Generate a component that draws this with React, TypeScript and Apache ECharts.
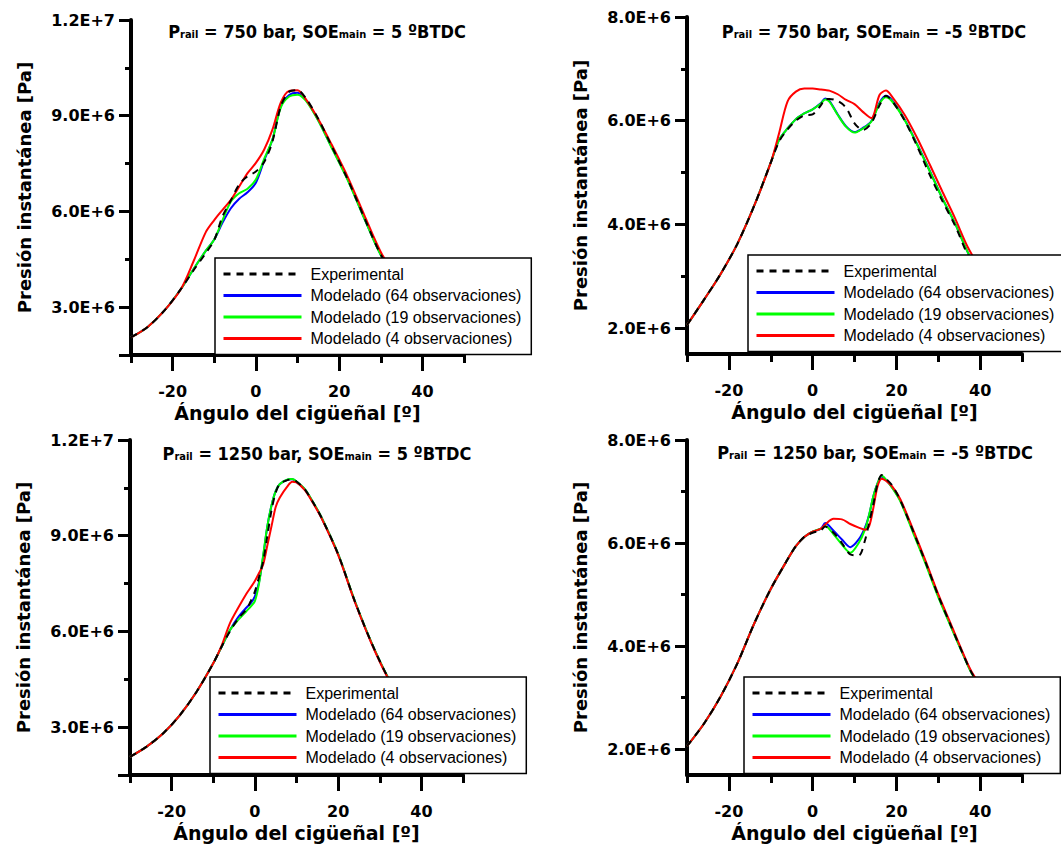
import React, { useEffect, useRef } from "react";
import * as echarts from "echarts";

// ---------- DATA (pressure values in units of 1e6 Pa) ----------
const seriesNames = [
  "Experimental",
  "Modelado (64 observaciones)",
  "Modelado (19 observaciones)",
  "Modelado (4 observaciones)",
];

// Panel 1: Prail = 750 bar, SOEmain = 5 ºBTDC
const angles1 = [-30, -26, -22, -18, -15, -12, -10, -8, -6, -4, -2, 0, 2, 4, 6, 8, 10, 12, 15, 18, 22, 26, 30, 34, 38, 42, 46, 50];
const exp1 = [2.05, 2.38, 2.89, 3.57, 4.15, 4.7, 5.1, 5.85, 6.35, 6.85, 7.1, 7.25, 7.55, 8.2, 9.3, 9.75, 9.8, 9.55, 8.9, 8.1, 7.02, 5.82, 4.65, 3.85, 3.25, 2.8, 2.45, 2.2];
const m64_1 = [2.05, 2.38, 2.89, 3.57, 4.19, 4.77, 5.12, 5.65, 6.1, 6.4, 6.6, 6.9, 7.6, 8.26, 9.3, 9.65, 9.72, 9.5, 8.86, 8.07, 7.02, 5.8, 4.64, 3.85, 3.25, 2.8, 2.45, 2.2];
const m19_1 = [2.05, 2.38, 2.89, 3.57, 4.19, 4.77, 5.12, 5.73, 6.31, 6.57, 6.71, 7.0, 7.65, 8.26, 9.26, 9.6, 9.66, 9.47, 8.84, 8.05, 7.0, 5.79, 4.63, 3.84, 3.24, 2.8, 2.45, 2.2];
const m4_1 = [2.05, 2.38, 2.89, 3.57, 4.43, 5.36, 5.73, 6.05, 6.36, 6.78, 7.2, 7.52, 7.94, 8.57, 9.42, 9.78, 9.8, 9.52, 8.89, 8.15, 7.1, 5.9, 4.73, 3.9, 3.3, 2.85, 2.5, 2.25];

// Panel 2: Prail = 750 bar, SOEmain = -5 ºBTDC
const angles2 = [-30, -26, -22, -18, -14, -10, -8, -6, -4, -2, 0, 2, 3, 4, 6, 8, 10, 12, 14, 16, 17.5, 19, 22, 25, 28, 31, 34, 37, 40, 44, 50];
const exp2 = [2.06, 2.54, 3.04, 3.62, 4.35, 5.19, 5.6, 5.83, 6.0, 6.1, 6.12, 6.3, 6.42, 6.42, 6.38, 6.25, 5.95, 5.82, 5.95, 6.3, 6.48, 6.38, 6.0, 5.5, 4.95, 4.45, 3.98, 3.42, 3.0, 2.5, 1.95];
const m64_2 = [2.06, 2.54, 3.04, 3.62, 4.35, 5.19, 5.63, 5.85, 6.03, 6.14, 6.22, 6.34, 6.43, 6.38, 6.12, 5.89, 5.78, 5.86, 5.99, 6.35, 6.48, 6.39, 6.02, 5.54, 5.03, 4.5, 4.02, 3.47, 3.05, 2.55, 1.95];
const m19_2 = [2.06, 2.54, 3.04, 3.62, 4.35, 5.19, 5.63, 5.85, 6.03, 6.14, 6.22, 6.33, 6.41, 6.37, 6.11, 5.88, 5.77, 5.85, 5.98, 6.33, 6.45, 6.37, 6.01, 5.53, 5.02, 4.5, 4.02, 3.47, 3.05, 2.55, 1.95];
const m4_2 = [2.06, 2.54, 3.04, 3.62, 4.35, 5.19, 5.76, 6.37, 6.56, 6.62, 6.62, 6.6, 6.59, 6.58, 6.51, 6.4, 6.32, 6.17, 6.05, 6.5, 6.58, 6.46, 6.11, 5.66, 5.15, 4.63, 4.12, 3.57, 3.15, 2.6, 2.0];

// Panel 3: Prail = 1250 bar, SOEmain = 5 ºBTDC
const angles3 = [-30, -26, -22, -18, -14, -10, -8, -6, -4, -2, -1, 0, 1, 2, 3, 4, 5, 6, 8, 9, 10, 12, 14, 16, 20, 24, 28, 32, 36, 40, 45, 50];
const exp3 = [2.07, 2.39, 2.81, 3.38, 4.11, 5.0, 5.52, 6.0, 6.4, 6.7, 6.95, 7.25, 7.7, 8.2, 9.0, 9.8, 10.35, 10.62, 10.75, 10.76, 10.7, 10.45, 10.04, 9.57, 8.42, 6.95, 5.65, 4.55, 3.72, 3.0, 2.4, 2.0];
const m64_3 = [2.07, 2.39, 2.81, 3.38, 4.11, 5.0, 5.52, 6.04, 6.45, 6.75, 6.88, 7.1, 7.55, 8.35, 9.3, 9.95, 10.4, 10.62, 10.76, 10.77, 10.69, 10.45, 10.04, 9.57, 8.42, 6.95, 5.65, 4.55, 3.72, 3.0, 2.4, 2.0];
const m19_3 = [2.07, 2.39, 2.81, 3.38, 4.11, 5.0, 5.52, 6.04, 6.36, 6.64, 6.78, 6.95, 7.5, 8.4, 9.3, 9.95, 10.4, 10.62, 10.77, 10.78, 10.7, 10.46, 10.05, 9.58, 8.43, 6.96, 5.66, 4.56, 3.72, 3.0, 2.4, 2.0];
const m4_3 = [2.07, 2.39, 2.81, 3.38, 4.11, 5.0, 5.55, 6.25, 6.74, 7.19, 7.38, 7.58, 7.83, 8.1, 8.7, 9.3, 9.9, 10.2, 10.58, 10.69, 10.67, 10.43, 10.02, 9.55, 8.4, 6.93, 5.63, 4.53, 3.7, 3.0, 2.4, 2.0];

// Panel 4: Prail = 1250 bar, SOEmain = -5 ºBTDC
const angles4 = [-30, -26, -22, -18, -14, -10, -6, -4, -2, 0, 2, 3, 5, 7, 9, 11, 12.5, 13.5, 14.5, 15.5, 16.5, 17.5, 19, 21, 24, 27, 30, 33, 36, 38, 42, 46, 50];
const exp4 = [2.06, 2.49, 3.02, 3.66, 4.43, 5.11, 5.68, 5.94, 6.12, 6.2, 6.25, 6.32, 6.2, 6.0, 5.78, 5.76, 6.05, 6.4, 6.75, 7.15, 7.32, 7.25, 7.12, 6.82, 6.23, 5.62, 4.98, 4.4, 3.83, 3.48, 3.0, 2.6, 2.3];
const m64_4 = [2.06, 2.49, 3.02, 3.66, 4.43, 5.11, 5.68, 5.94, 6.12, 6.22, 6.28, 6.39, 6.24, 6.07, 5.92, 6.07, 6.3, 6.55, 6.91, 7.16, 7.29, 7.23, 7.08, 6.82, 6.23, 5.62, 4.98, 4.4, 3.83, 3.48, 3.0, 2.6, 2.3];
const m19_4 = [2.06, 2.49, 3.02, 3.66, 4.43, 5.11, 5.68, 5.94, 6.12, 6.22, 6.28, 6.33, 6.17, 5.97, 5.81, 6.0, 6.26, 6.55, 6.91, 7.16, 7.31, 7.23, 7.07, 6.8, 6.2, 5.59, 4.95, 4.38, 3.82, 3.47, 3.0, 2.6, 2.3];
const m4_4 = [2.06, 2.49, 3.02, 3.66, 4.43, 5.11, 5.68, 5.94, 6.12, 6.22, 6.28, 6.36, 6.47, 6.46, 6.37, 6.3, 6.26, 6.33, 6.68, 7.1, 7.25, 7.21, 7.1, 6.84, 6.26, 5.65, 5.01, 4.43, 3.85, 3.5, 3.02, 2.62, 2.32];

// Axis ticks
const xRange = [-30, 50];
const xMajorTicks = [-20, 0, 20, 40];
const xMinorTicks = [-30, -10, 10, 30, 50];
const yRangeA = [1.5e6, 1.2e7];
const yLabelsA = [3e6, 6e6, 9e6, 1.2e7];
const yMajorTicksA = [1.5e6, 3e6, 6e6, 9e6, 1.2e7];
const yMinorTicksA = [4.5e6, 7.5e6, 1.05e7];
const yRangeB = [1.5e6, 8e6];
const yLabelsB = [2e6, 4e6, 6e6, 8e6];
const yMajorTicksB = [2e6, 4e6, 6e6, 8e6];
const yMinorTicksB = [3e6, 5e6, 7e6];

const titleParts = [
  { rail: "750", soe: "5" },
  { rail: "750", soe: "-5" },
  { rail: "1250", soe: "5" },
  { rail: "1250", soe: "-5" },
];
const xName = "Ángulo del cigüeñal [º]";
const yName = "Presión instantánea [Pa]";

const panels = [
  { angles: angles1, data: [exp1, m64_1, m19_1, m4_1], yRange: yRangeA, yLabels: yLabelsA, yMajor: yMajorTicksA, yMinor: yMinorTicksA },
  { angles: angles2, data: [exp2, m64_2, m19_2, m4_2], yRange: yRangeB, yLabels: yLabelsB, yMajor: yMajorTicksB, yMinor: yMinorTicksB },
  { angles: angles3, data: [exp3, m64_3, m19_3, m4_3], yRange: yRangeA, yLabels: yLabelsA, yMajor: yMajorTicksA, yMinor: yMinorTicksA },
  { angles: angles4, data: [exp4, m64_4, m19_4, m4_4], yRange: yRangeB, yLabels: yLabelsB, yMajor: yMajorTicksB, yMinor: yMinorTicksB },
];

// ---------- LAYOUT ----------
const grids = [
  { left: 131, top: 20, width: 333, height: 335 },
  { left: 687, top: 17, width: 335, height: 337 },
  { left: 130, top: 440, width: 333, height: 335 },
  { left: 687, top: 440, width: 335, height: 335 },
];
const legendPos = [
  { left: 215, top: 258 },
  { left: 748, top: 255 },
  { left: 210, top: 677 },
  { left: 744, top: 677 },
];
const titlePos = [
  { x: 317, y: 30 },
  { x: 874, y: 30 },
  { x: 317, y: 452 },
  { x: 875, y: 451 },
];

const lineColors = ["#000000", "#0000ff", "#00ff00", "#ff0000"];
const BOLD_FONT = '"DejaVu Sans", sans-serif';
const LEGEND_FONT = '"Liberation Sans", Arial, sans-serif';

function sci(v: number): string {
  const e = Math.floor(Math.log10(v) + 1e-9);
  const m = v / Math.pow(10, e);
  return m.toFixed(1) + "E+" + e;
}

function buildOption() {
  const xAxis: any[] = [];
  const yAxis: any[] = [];
  const series: any[] = [];
  const legend: any[] = [];
  const graphic: any[] = [];

  panels.forEach((p, g) => {
    const tickStyle = { color: "#000", width: 3 };
    xAxis.push({
      gridIndex: g,
      type: "value",
      position: "bottom",
      min: xRange[0],
      max: xRange[1],
      axisLine: { show: true, onZero: false, lineStyle: { color: "#000", width: 4 } },
      axisTick: { show: true, customValues: xMinorTicks, length: 8, lineStyle: tickStyle },
      axisLabel: { show: false },
      splitLine: { show: false },
    });
    xAxis.push({
      gridIndex: g,
      type: "value",
      position: "bottom",
      offset: 0,
      min: xRange[0],
      max: xRange[1],
      axisLine: { show: false, onZero: false },
      axisTick: { show: true, customValues: xMajorTicks, length: 16, lineStyle: tickStyle },
      axisLabel: {
        customValues: xMajorTicks,
        margin: 28,
        fontFamily: BOLD_FONT,
        fontWeight: "bold",
        fontSize: 16,
        color: "#000",
      },
      splitLine: { show: false },
      name: xName,
      nameLocation: "middle",
      nameGap: 48,
      nameTextStyle: { fontFamily: BOLD_FONT, fontWeight: "bold", fontSize: 19, color: "#000" },
    });
    yAxis.push({
      gridIndex: g,
      type: "value",
      position: "left",
      min: p.yRange[0],
      max: p.yRange[1],
      axisLine: { show: true, onZero: false, lineStyle: { color: "#000", width: 4 } },
      axisTick: { show: true, customValues: p.yMinor, length: 6, lineStyle: tickStyle },
      axisLabel: { show: false },
      splitLine: { show: false },
    });
    yAxis.push({
      gridIndex: g,
      type: "value",
      position: "left",
      offset: 0,
      min: p.yRange[0],
      max: p.yRange[1],
      axisLine: { show: false, onZero: false },
      axisTick: { show: true, customValues: p.yMajor, length: 12, lineStyle: tickStyle },
      axisLabel: {
        customValues: p.yLabels,
        formatter: (v: number) => sci(v),
        margin: 16,
        fontFamily: BOLD_FONT,
        fontWeight: "bold",
        fontSize: 16,
        color: "#000",
      },
      splitLine: { show: false },
      name: yName,
      nameLocation: "middle",
      nameGap: 98,
      nameTextStyle: { fontFamily: BOLD_FONT, fontWeight: "bold", fontSize: 18, color: "#000" },
    });

    // draw order: models first, experimental on top
    [1, 2, 3, 0].forEach((k) => {
      series.push({
        type: "line",
        name: seriesNames[k],
        xAxisIndex: 2 * g,
        yAxisIndex: 2 * g,
        showSymbol: false,
        symbol: "none",
        smooth: 0.3,
        lineStyle: {
          color: lineColors[k],
          width: 2,
          type: k === 0 ? [7, 6] : "solid",
        },
        itemStyle: { color: lineColors[k] },
        z: k === 0 ? 5 : 2 + k * 0.1,
        data: p.angles.map((a, i) => [a, p.data[k][i] * 1e6]),
      });
    });

    legend.push({
      data: seriesNames,
      orient: "vertical",
      left: legendPos[g].left,
      top: legendPos[g].top,
      itemWidth: 78,
      itemHeight: 10,
      itemGap: 3.5,
      padding: [7, 10, 7, 7],
      backgroundColor: "#fff",
      borderColor: "#000",
      borderWidth: 1.5,
      borderRadius: 0,
      itemStyle: { opacity: 0 },
      lineStyle: { width: 3 },
      selectedMode: false,
      textStyle: {
        fontFamily: LEGEND_FONT,
        fontSize: 16,
        lineHeight: 18,
        color: "#000",
        padding: [0, 0, 0, 4],
      },
      z: 10,
    });

    const t = titleParts[g];
    graphic.push({
      type: "text",
      x: titlePos[g].x,
      y: titlePos[g].y,
      z: 20,
      style: {
        text: `{b|P}{s|rail}{b| = ${t.rail} bar, SOE}{s|main}{b| = ${t.soe} ºBTDC}`,
        align: "center",
        verticalAlign: "middle",
        rich: {
          b: {
            fontFamily: '"DejaVu Sans Condensed", "DejaVu Sans", sans-serif',
            fontWeight: "bold",
            fontSize: 18,
            lineHeight: 20,
            verticalAlign: "bottom",
            fill: "#000",
          },
          s: {
            fontFamily: '"DejaVu Sans Condensed", "DejaVu Sans", sans-serif',
            fontWeight: "bold",
            fontSize: 11,
            lineHeight: 4,
            verticalAlign: "bottom",
            fill: "#000",
          },
        },
      },
    });
  });

  return {
    animation: false,
    backgroundColor: "#fff",
    grid: grids.map((gr) => ({ ...gr, containLabel: false })),
    xAxis,
    yAxis,
    series,
    legend,
    graphic,
  };
}

export default function App() {
  const ref = useRef<HTMLDivElement>(null);
  useEffect(() => {
    document.body.style.margin = "0";
    if (!ref.current) return;
    const chart = echarts.init(ref.current, undefined, { renderer: "svg" });
    chart.setOption(buildOption() as any);
    return () => chart.dispose();
  }, []);
  return <div ref={ref} style={{ width: 1061, height: 852 }} />;
}
